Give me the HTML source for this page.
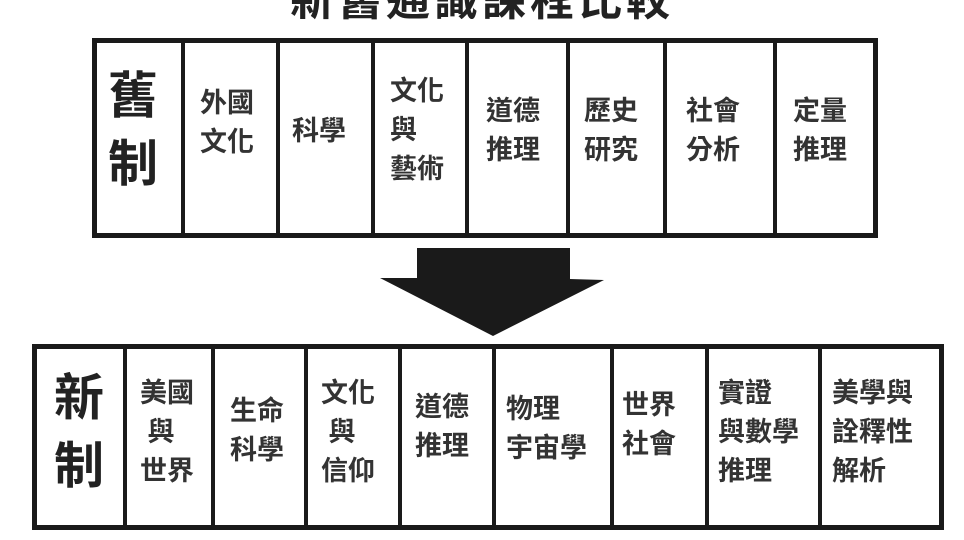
<!DOCTYPE html>
<html><head><meta charset="utf-8"><style>
body{margin:0;width:964px;height:540px;background:#fff;position:relative;overflow:hidden;font-family:"Liberation Sans","Noto Sans CJK TC",sans-serif;color:#222}
.b{position:absolute;border:5px solid #1a1a1a;box-sizing:border-box}
.v{position:absolute;width:4px;background:#1a1a1a}
.t{position:absolute;font-size:27px;line-height:39px;white-space:nowrap;color:#333;font-weight:bold}
.big{position:absolute;font-size:50px;line-height:68px;color:#222;font-weight:bold}
</style></head><body>
<div style="position:absolute;left:0;width:964px;top:-36px;text-align:center;font-size:44px;font-weight:bold;letter-spacing:4px;color:#222">新舊通識課程比較</div>

<div class="b" style="left:92px;top:38px;width:786px;height:200px"></div>
<div class="v" style="left:181px;top:40px;height:196px"></div>
<div class="v" style="left:276px;top:40px;height:196px"></div>
<div class="v" style="left:371px;top:40px;height:196px"></div>
<div class="v" style="left:465px;top:40px;height:196px"></div>
<div class="v" style="left:566px;top:40px;height:196px"></div>
<div class="v" style="left:663px;top:40px;height:196px"></div>
<div class="v" style="left:773px;top:40px;height:196px"></div>
<div class="big" style="left:108px;top:62px">舊<br>制</div>
<div class="t" style="left:200px;top:84px">外國<br>文化</div>
<div class="t" style="left:292px;top:112px">科學</div>
<div class="t" style="left:390px;top:72px">文化<br>與<br>藝術</div>
<div class="t" style="left:486px;top:92px">道德<br>推理</div>
<div class="t" style="left:584px;top:92px">歷史<br>研究</div>
<div class="t" style="left:686px;top:92px">社會<br>分析</div>
<div class="t" style="left:793px;top:92px">定量<br>推理</div>

<svg style="position:absolute;left:0;top:0" width="964" height="540"><polygon points="417,248 570,248 570,279 604,280 493,336 380,278 417,278" fill="#1a1a1a"/></svg>

<div class="b" style="left:32px;top:344px;width:912px;height:186px"></div>
<div class="v" style="left:123px;top:346px;height:182px"></div>
<div class="v" style="left:211px;top:346px;height:182px"></div>
<div class="v" style="left:304px;top:346px;height:182px"></div>
<div class="v" style="left:398px;top:346px;height:182px"></div>
<div class="v" style="left:492px;top:346px;height:182px"></div>
<div class="v" style="left:610px;top:346px;height:182px"></div>
<div class="v" style="left:705px;top:346px;height:182px"></div>
<div class="v" style="left:818px;top:346px;height:182px"></div>
<div class="big" style="left:54px;top:364px">新<br>制</div>
<div class="t" style="left:140px;top:374px">美國<br>&nbsp;與<br>世界</div>
<div class="t" style="left:230px;top:392px">生命<br>科學</div>
<div class="t" style="left:321px;top:374px">文化<br>&nbsp;與<br>信仰</div>
<div class="t" style="left:415px;top:388px">道德<br>推理</div>
<div class="t" style="left:506px;top:390px">物理<br>宇宙學</div>
<div class="t" style="left:622px;top:386px">世界<br>社會</div>
<div class="t" style="left:718px;top:374px">實證<br>與數學<br>推理</div>
<div class="t" style="left:832px;top:374px">美學與<br>詮釋性<br>解析</div>
</body></html>
